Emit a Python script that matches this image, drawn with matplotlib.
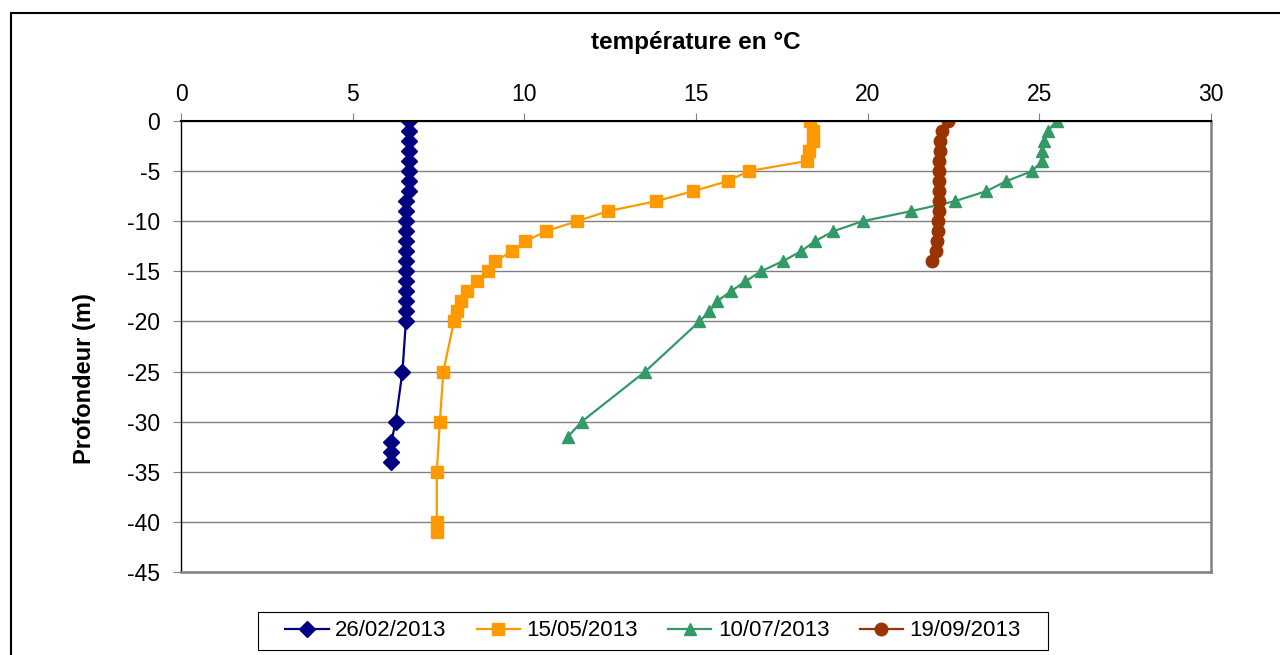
import matplotlib
matplotlib.use("Agg")
import matplotlib.pyplot as plt
from matplotlib.patches import Rectangle

plt.rcParams['font.family'] = ['Liberation Sans', 'DejaVu Sans']
plt.rcParams['axes.unicode_minus'] = False

# Data: temperature (°C) by depth (m)
labels = ["26/02/2013", "15/05/2013", "10/07/2013", "19/09/2013"]

depth_feb = [0, -1, -2, -3, -4, -5, -6, -7, -8, -9, -10, -11, -12, -13, -14,
             -15, -16, -17, -18, -19, -20, -25, -30, -32, -33, -34]
temp_feb = [6.65, 6.65, 6.65, 6.65, 6.65, 6.65, 6.64, 6.64, 6.55, 6.55, 6.55,
            6.55, 6.55, 6.55, 6.55, 6.55, 6.55, 6.55, 6.55, 6.55, 6.55,
            6.45, 6.25, 6.13, 6.13, 6.13]

depth_may = [0, -1, -2, -3, -4, -5, -6, -7, -8, -9, -10, -11, -12, -13, -14,
             -15, -16, -17, -18, -19, -20, -25, -30, -35, -40, -41]
temp_may = [18.32, 18.42, 18.42, 18.3, 18.22, 16.53, 15.92, 14.92, 13.84,
            12.43, 11.53, 10.63, 10.03, 9.64, 9.15, 8.94, 8.63, 8.34, 8.15,
            8.05, 7.95, 7.64, 7.54, 7.45, 7.45, 7.45]

depth_jul = [0, -1, -2, -3, -4, -5, -6, -7, -8, -9, -10, -11, -12, -13, -14,
             -15, -16, -17, -18, -19, -20, -25, -30, -31.5]
temp_jul = [25.5, 25.25, 25.15, 25.09, 25.07, 24.79, 24.04, 23.46, 22.54,
            21.26, 19.85, 19.0, 18.46, 18.06, 17.52, 16.89, 16.44, 16.01,
            15.61, 15.39, 15.1, 13.52, 11.67, 11.27]

depth_sep = [0, -1, -2, -3, -4, -5, -6, -7, -8, -9, -10, -11, -12, -13, -14]
temp_sep = [22.33, 22.16, 22.1, 22.1, 22.09, 22.08, 22.08, 22.08, 22.07,
            22.07, 22.06, 22.05, 22.03, 21.99, 21.87]

fig = plt.figure(figsize=(12.8, 6.55), dpi=100)
ax = fig.add_axes([181 / 1280, 83 / 655, 1030 / 1280, 451 / 655])

ax.plot(temp_feb, depth_feb, color="#000080", marker="D", markersize=8.5, lw=1.6, label=labels[0])
ax.plot(temp_may, depth_may, color="#FF9900", marker="s", markersize=9, lw=1.6, label=labels[1])
ax.plot(temp_jul, depth_jul, color="#339966", marker="^", markersize=9, lw=1.6, label=labels[2])
ax.plot(temp_sep, depth_sep, color="#993300", marker="o", markersize=9, lw=1.6, label=labels[3])

ax.set_xlim(0, 30)
ax.set_ylim(-45, 0)
ax.set_xticks(range(0, 31, 5))
ax.set_yticks(range(-45, 1, 5))
ax.xaxis.tick_top()
ax.xaxis.set_label_position("top")
ax.tick_params(axis="both", direction="out", length=6, color="#808080", labelsize=16.5)
ax.tick_params(axis="x", pad=5)
ax.tick_params(axis="y", pad=9)
ax.set_xlabel("température en °C", fontsize=17.5, fontweight="bold", labelpad=24)
ax.set_ylabel("Profondeur (m)", fontsize=17, fontweight="bold")
ax.yaxis.set_label_coords(-0.083, 0.43)

ax.yaxis.grid(True, color="#808080", lw=1)
ax.set_axisbelow(True)
ax.spines["top"].set_color("black")
ax.spines["top"].set_linewidth(1.5)
ax.spines["left"].set_color("black")
ax.spines["left"].set_linewidth(1)
ax.spines["right"].set_color("#808080")
ax.spines["right"].set_linewidth(1.8)
ax.spines["bottom"].set_color("#808080")
ax.spines["bottom"].set_linewidth(1.8)

fig.legend(loc="center", bbox_to_anchor=(653 / 1280, 1 - 631 / 655), ncol=4,
           fontsize=16, frameon=False, handlelength=1.95, handletextpad=0.3,
           columnspacing=1.35, borderpad=0.3)
# legend box
fig.patches.append(Rectangle((258 / 1280, 1 - 650 / 655), 790 / 1280, 38 / 655,
                             transform=fig.transFigure, fill=False,
                             edgecolor="black", lw=0.8))

# outer chart frame
fig.patches.append(Rectangle((10.5 / 1280, -0.1), 1.2, 1.1 - 13 / 655,
                             transform=fig.transFigure, fill=False,
                             edgecolor="black", lw=1.5))

fig.savefig("out.png", dpi=100)
